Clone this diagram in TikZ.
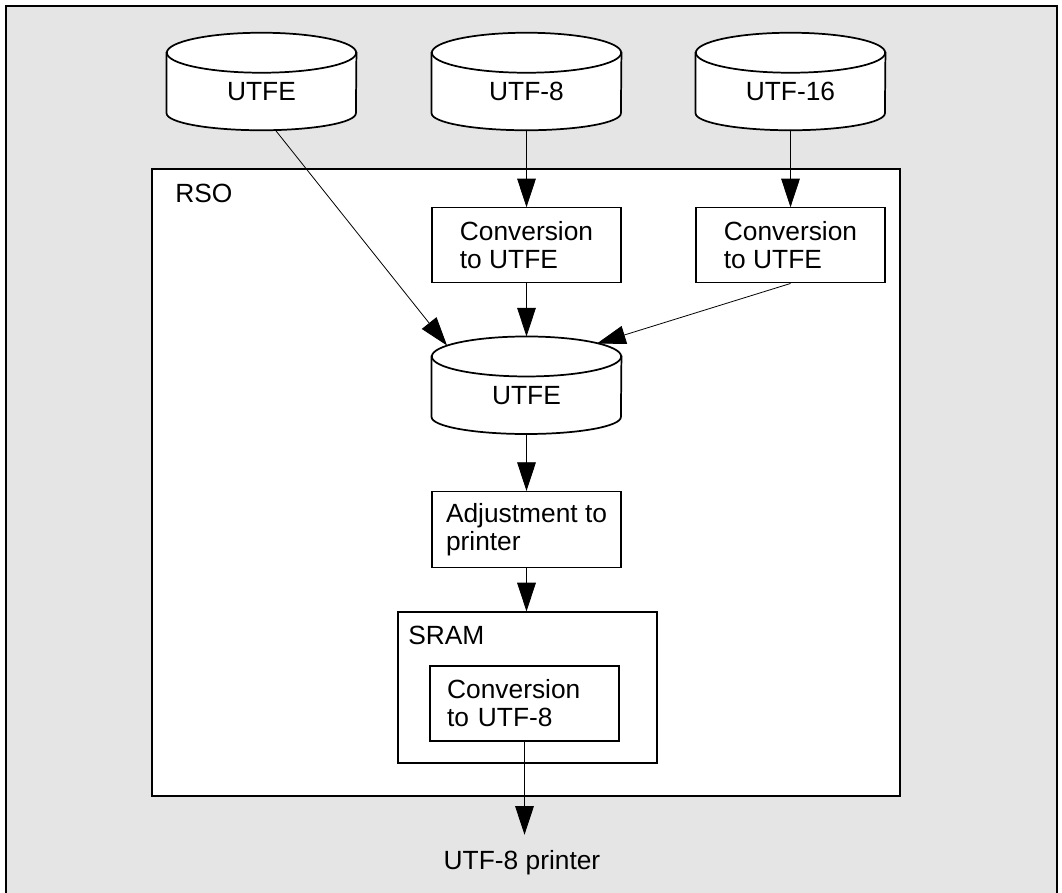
\documentclass[tikz,border=0pt]{standalone}
\usepackage{fontspec}
\setmainfont{Liberation Sans}
\usetikzlibrary{arrows.meta,backgrounds,positioning}
\definecolor{framegray}{HTML}{E5E5E5}

\begin{document}
\begin{tikzpicture}
  [
   x=0.75pt, y=-0.75pt,
   every node/.style={font=\fontsize{19.75pt}{21pt}\selectfont},
   db/.style={rectangle,inner sep=0pt,minimum width=142pt,minimum height=57.75pt},
   dbline/.style={line width=1.3pt,draw=black,fill=white},
   cb/.style={rectangle,draw,line width=0.9pt,fill=white,align=left,inner sep=0pt,
              minimum width=141.75pt,minimum height=56.25pt},
   grp/.style={rectangle,draw,line width=0.9pt,fill=white,inner sep=0pt},
   lbl/.style={anchor=west,inner sep=0pt},
   arr/.style={line width=0.6pt,-{Triangle[length=21.5pt,width=14pt]}}
  ]
   \useasboundingbox (0,0) rectangle (1062,892);

   % frame and groups
   \begin{scope}[on background layer]
     \draw[line width=1pt,fill=framegray] (6,6) rectangle (1057,900);
     \node[grp,minimum width=561pt,minimum height=470.25pt] (rso) at (526,482.5) {};
     \node[grp,minimum width=194.25pt,minimum height=113.25pt] (sram) at (527.5,687.5) {};
   \end{scope}
   \node[lbl] (rsolbl) at (175,193) {RSO};
   \node[lbl] (sramlbl) at (408,635) {SRAM};

   \node[db] (srcE) at (261.5,91.5) {UTFE};
   \node[db] (src8) at (526.5,91.5) {UTF-8};
   \node[db] (src16) at (790.5,91.5) {UTF-16};
   \node[cb] (conv8) [below=57.75pt of src8] {Conversion\\to UTFE};
   \node[cb] (conv16) [below=57.75pt of src16] {Conversion\\to UTFE};
   \node[db] (mid) [below=54.75pt of conv8] {UTFE};
   \node[cb,minimum height=57pt] (adj) [below=42.75pt of mid] {Adjustment to\\printer};
   \node[cb,text width=116pt] (inner) at (524.5,703.5) {Conversion\\to UTF-8};
   \node[inner ysep=11.4pt] (printer) at (522,862.5) {UTF-8 printer};

   % cylinders
   \begin{scope}[on background layer]
     \foreach \c in {srcE,src8,src16,mid} {
       \filldraw[dbline] (\c.north west) -- ([yshift=12.75pt]\c.south west)
         arc[start angle=180,end angle=360,x radius=71pt,y radius=12.75pt]
         -- (\c.north east) -- cycle;
       \filldraw[dbline] (\c.north) ellipse[x radius=71pt,y radius=15pt];
     }
   \end{scope}

   \draw[arr] (src8) -- (conv8);
   \draw[arr] (src16.south) -- (src16.south |- conv16.north);
   \draw[arr] (conv8) -- ([yshift=15pt]mid.north);
   \draw[arr] ([xshift=10.5pt]srcE.south) -- ([shift={(-79.5,-11)}]mid.north);
   \draw[arr] (conv16.south) -- ([shift={(70.5,-13)}]mid.north);
   \draw[arr] (mid) -- (adj);
   \draw[arr] (adj) -- (adj.south |- sram.north);
   \draw[arr] (inner.south) -- (inner.south |- printer.north);

\end{tikzpicture}
\end{document}
